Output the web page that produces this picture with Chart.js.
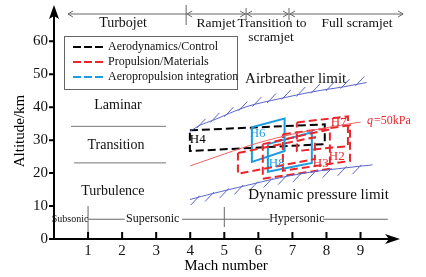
<!DOCTYPE html>
<html><head><meta charset="utf-8">
<script src="https://cdn.jsdelivr.net/npm/chart.js@4/dist/chart.umd.min.js"></script>
<style>html,body{margin:0;padding:0;background:#fff}</style>
</head><body>
<canvas id="c" width="426" height="277" style="width:426px;height:277px;display:block"></canvas>
<script>
// ---- data (Mach number, altitude km) ----
const machTicks = [1,2,3,4,5,6,7,8,9];
const altTicks = [0,10,20,30,40,50,60];
const seriesNames = ['Aerodynamics/Control','Propulsion/Materials','Aeropropulsion integration'];
const H4 = [[3.99,33.0],[7.95,34.8],[7.95,28.8],[3.99,26.7],[3.99,33.0]];
const H6 = [[5.81,33.9],[6.77,36.6],[6.77,26.7],[5.81,23.4],[5.81,33.9]];
const H8 = [[6.28,28.8],[7.57,32.4],[7.57,23.1],[6.28,20.4],[6.28,28.8]];
const R1 = [[5.40,26.1],[7.66,30.9],[7.66,24.3],[5.40,19.8],[5.40,26.1]];
const H3 = [[6.13,28.8],[8.10,33.3],[8.10,21.3],[6.13,18.3],[6.13,28.8]];
const H2 = [[6.72,31.8],[8.69,34.5],[8.69,23.7],[6.72,20.7],[6.72,31.8]];
const H7 = [[7.13,35.4],[8.63,37.2],[8.63,28.2],[7.13,26.7],[7.13,35.4]];
const airbreather = [[3.99,32.7],[4.3,34.6],[4.66,36.0],[5.66,40.2],[6.63,42.6],[7.6,44.7],[8.5,46.2],[9.18,47.5]];
const dynPressure = [[3.99,12.0],[4.66,13.8],[5.63,16.2],[6.63,18.6],[7.6,20.4],[8.56,21.6],[9.35,22.5]];
const q50 = [[4.0,22.2],[5.0,25.8],[6.0,29.2],[7.0,31.8],[8.0,33.8],[9.0,35.5]];
const boxLabels = [['H4',4.22,30.3,0],['H6',5.98,32.1,2],['H8',6.54,22.8,2],['H7',8.36,35.4,1],['H2',8.30,24.9,1],['H3',7.83,22.8,1]];

const COLORS = ['#000000','#e8262c','#1c9de0'];
const DASH = [[8,4],[8,4],[]];
const LIMIT = '#5a64c8';
const SERIF = '"Liberation Serif","Times New Roman",serif';

const toXY = a => a.map(p => ({x:p[0], y:p[1]}));
function boxDs(arr, g){
  return {data:toXY(arr), showLine:true, pointRadius:0, borderColor:COLORS[g], borderWidth:2,
          borderDash:DASH[g], fill:false, tension:0, group:g};
}
const datasets = [
  {data:toXY(airbreather), showLine:true, pointRadius:0, borderColor:LIMIT, borderWidth:1, tension:0.3, hatch:-1},
  {data:toXY(dynPressure), showLine:true, pointRadius:0, borderColor:LIMIT, borderWidth:1, tension:0.3, hatch:1},
  {data:toXY(q50), showLine:true, pointRadius:0, borderColor:'#f06060', borderWidth:1, tension:0.3},
  boxDs(R1,1), boxDs(H3,1), boxDs(H2,1), boxDs(H7,1),
  boxDs(H6,2), boxDs(H8,2),
  boxDs(H4,0)
];

function P(chart,m,a){ return [chart.scales.x.getPixelForValue(m), chart.scales.y.getPixelForValue(a)]; }

const deco = {
  id:'deco',
  afterDraw(chart){
    const ctx = chart.ctx, xs = chart.scales.x, ys = chart.scales.y;
    const x0 = xs.getPixelForValue(0), y0 = ys.getPixelForValue(0);
    ctx.save();
    // hatches on limit curves
    chart.data.datasets.forEach((ds,i)=>{
      if(!ds.hatch) return;
      const pts = chart.getDatasetMeta(i).data.map(e=>({x:e.x,y:e.y}));
      ctx.beginPath(); ctx.strokeStyle = LIMIT; ctx.lineWidth = 1;
      const sp = 15; let acc = 9;
      for(let k=0;k<pts.length-1;k++){
        const a=pts[k], b=pts[k+1], dx=b.x-a.x, dy=b.y-a.y, L=Math.hypot(dx,dy);
        let t = acc;
        while(t<=L){
          const px=a.x+dx*t/L, py=a.y+dy*t/L;
          if(ds.hatch<0){ ctx.moveTo(px-1,py+1.5); ctx.lineTo(px+8,py-8); }
          else { ctx.moveTo(px+1,py-1.5); ctx.lineTo(px-8,py+8); }
          t += sp;
        }
        acc = t - L;
      }
      ctx.stroke();
    });
    // box labels
    ctx.font = '13px '+SERIF; ctx.textAlign='center'; ctx.textBaseline='middle';
    boxLabels.forEach(l=>{ const [x,y]=P(chart,l[1],l[2]); ctx.fillStyle=COLORS[l[3]]; ctx.fillText(l[0],x,y); });
    // axes
    ctx.strokeStyle='#000'; ctx.fillStyle='#000'; ctx.lineWidth=2;
    ctx.beginPath(); ctx.moveTo(x0,y0); ctx.lineTo(x0,14); ctx.moveTo(x0-1,y0); ctx.lineTo(392,y0); ctx.stroke();
    ctx.beginPath(); ctx.moveTo(x0,5); ctx.lineTo(x0-5,19); ctx.lineTo(x0,16); ctx.lineTo(x0+5,19); ctx.closePath(); ctx.fill();
    ctx.beginPath(); ctx.moveTo(400,y0); ctx.lineTo(385,y0-5); ctx.lineTo(389,y0); ctx.lineTo(385,y0+5); ctx.closePath(); ctx.fill();
    ctx.beginPath();
    machTicks.forEach(m=>{ const x=xs.getPixelForValue(m); ctx.moveTo(x,y0); ctx.lineTo(x,y0-7); });
    altTicks.forEach(a=>{ const y=ys.getPixelForValue(a); ctx.moveTo(x0,y); ctx.lineTo(x0-5,y); });
    ctx.stroke();
    // axis titles
    ctx.font='15px '+SERIF; ctx.textAlign='center'; ctx.textBaseline='middle';
    ctx.fillText('Mach number', (xs.left+xs.right)/2, 266);
    ctx.save(); ctx.translate(20,(ys.top+ys.bottom)/2+4); ctx.rotate(-Math.PI/2); ctx.fillText('Altitude/km',0,0); ctx.restore();
    // flow regime (left)
    ctx.strokeStyle='#777'; ctx.lineWidth=1; ctx.fillStyle='#111';
    ctx.font='14px '+SERIF;
    let p;
    p=P(chart,1.88,40.7); ctx.fillText('Laminar',p[0],p[1]);
    p=P(chart,1.82,28.5); ctx.fillText('Transition',p[0],p[1]);
    p=P(chart,1.73,14.4); ctx.fillText('Turbulence',p[0],p[1]);
    ctx.beginPath();
    let a1=P(chart,0.5,34.2), a2=P(chart,3.29,34.2); ctx.moveTo(a1[0],a1[1]); ctx.lineTo(a2[0],a2[1]);
    a1=P(chart,0.59,23.1); a2=P(chart,3.29,23.1); ctx.moveTo(a1[0],a1[1]); ctx.lineTo(a2[0],a2[1]);
    ctx.stroke();
    // speed regime (bottom)
    const yr = ys.getPixelForValue(6.0);
    ctx.beginPath(); ctx.strokeStyle='#666';
    const seg=(m1,m2)=>{ctx.moveTo(xs.getPixelForValue(m1),yr); ctx.lineTo(xs.getPixelForValue(m2),yr);};
    seg(1,2.08); seg(3.76,6.34); seg(7.9,9.8);
    let xv=xs.getPixelForValue(1); ctx.moveTo(xv,206); ctx.lineTo(xv,232);
    xv=xs.getPixelForValue(5); ctx.moveTo(xv,207); ctx.lineTo(xv,227);
    ctx.stroke();
    ctx.font='10px '+SERIF; ctx.fillText('Subsonic', xs.getPixelForValue(0.47), yr);
    ctx.font='12px '+SERIF; ctx.fillText('Supersonic', xs.getPixelForValue(2.9), yr);
    ctx.fillText('Hypersonic', xs.getPixelForValue(7.13), yr);
    // propulsion regime (top)
    const yt = 14;
    ctx.beginPath(); ctx.strokeStyle='#666';
    const xl=xs.getPixelForValue(0.41), xr=xs.getPixelForValue(10.25);
    const d1=xs.getPixelForValue(3.88), d2=xs.getPixelForValue(5.64), d3=xs.getPixelForValue(6.9);
    ctx.moveTo(xl,yt); ctx.lineTo(xr,yt);
    const arrowL=(x)=>{ctx.moveTo(x+5,yt-3); ctx.lineTo(x,yt); ctx.lineTo(x+5,yt+3);};
    const arrowR=(x)=>{ctx.moveTo(x-5,yt-3); ctx.lineTo(x,yt); ctx.lineTo(x-5,yt+3);};
    arrowL(xl); arrowR(xr);
    ctx.moveTo(d1,5); ctx.lineTo(d1,25); arrowL(d1+1);
    [d2,d3].forEach(d=>{ ctx.moveTo(d,8); ctx.lineTo(d,20); arrowR(d-1); arrowL(d+1); });
    ctx.stroke();
    ctx.font='14px '+SERIF; ctx.fillStyle='#111';
    ctx.fillText('Turbojet', 123, 23);
    ctx.font='13.5px '+SERIF;
    ctx.fillText('Ramjet', 216, 23);
    ctx.fillText('Transition to', 272, 23);
    ctx.fillText('scramjet', 271, 37);
    ctx.fillText('Full scramjet', 357, 23);
    // limits text
    ctx.textAlign='left';
    ctx.font='15px '+SERIF;
    p=P(chart,5.61,48.5); ctx.fillText('Airbreather limit',p[0],p[1]);
    p=P(chart,5.70,13.2); ctx.fillText('Dynamic pressure limit',p[0],p[1]);
    p=P(chart,9.19,36.0);
    ctx.fillStyle='#e8262c'; ctx.font='italic 12px '+SERIF; ctx.fillText('q',p[0],p[1]);
    const qw=ctx.measureText('q').width; ctx.font='12px '+SERIF; ctx.fillText('=50kPa',p[0]+qw+1,p[1]);
    // legend
    ctx.fillStyle='#fff'; ctx.fillRect(64,36,173,53);
    ctx.strokeStyle='#666'; ctx.lineWidth=1; ctx.strokeRect(64.5,36.5,173,53);
    ctx.font='12px '+SERIF;
    seriesNames.forEach((n,i)=>{
      const y=47+i*15;
      ctx.beginPath(); ctx.strokeStyle=COLORS[i]; ctx.lineWidth=2; ctx.setLineDash([8,3]);
      ctx.moveTo(73,y); ctx.lineTo(104,y); ctx.stroke(); ctx.setLineDash([]);
      ctx.fillStyle='#111'; ctx.fillText(n,108,y);
    });
    ctx.restore();
  }
};

new Chart(document.getElementById('c'), {
  type:'scatter',
  data:{datasets},
  options:{
    responsive:false, animation:false, devicePixelRatio:1,
    layout:{padding:{top:12,right:28,left:0,bottom:0}},
    plugins:{legend:{display:false}, tooltip:{enabled:false}},
    scales:{
      x:{type:'linear', min:0, max:10.1,
         afterBuildTicks:s=>{s.ticks=machTicks.map(v=>({value:v}));},
         afterFit:s=>{s.height=38;},
         grid:{display:false, drawTicks:false}, border:{display:false},
         ticks:{font:{family:SERIF,size:15}, color:'#111', padding:3, maxRotation:0, autoSkip:false}},
      y:{type:'linear', min:0, max:68,
         afterBuildTicks:s=>{s.ticks=altTicks.map(v=>({value:v}));},
         afterFit:s=>{s.width=54;},
         grid:{display:false, drawTicks:false}, border:{display:false},
         ticks:{font:{family:SERIF,size:15}, color:'#111', padding:6, autoSkip:false}}
    }
  },
  plugins:[deco]
});
</script>
</body></html>
